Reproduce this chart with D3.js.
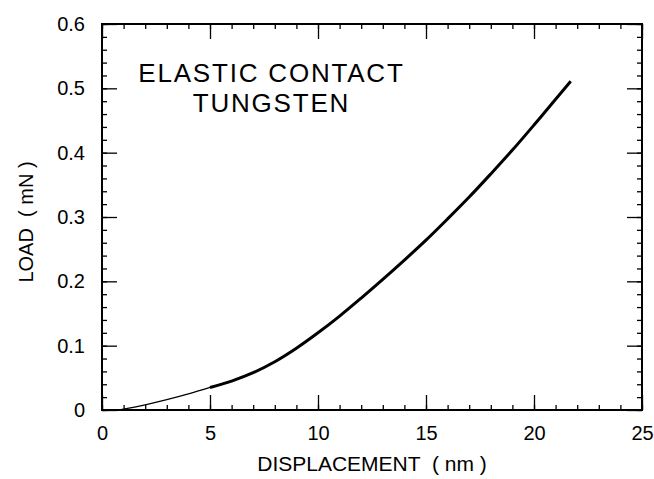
<!DOCTYPE html>
<html>
<head>
<meta charset="utf-8">
<script src="https://cdn.jsdelivr.net/npm/d3@7"></script>
<style>
  body { margin: 0; background: #fff; }
  text { font-family: "Liberation Sans", Arial, sans-serif; fill: #000; }
</style>
</head>
<body>
<svg id="chart" width="654" height="479"></svg>
<script>
// displacement (nm) vs load (mN)
const displacement = [0.8, 2, 3, 4, 5, 6, 7, 8, 9, 10, 11, 12, 13, 14, 15, 16, 17, 18, 19, 20, 21, 21.7];
const load = [0, 0.008, 0.016, 0.025, 0.035, 0.045, 0.058, 0.075, 0.096, 0.12, 0.146, 0.174, 0.203, 0.233, 0.264, 0.297, 0.331, 0.367, 0.404, 0.443, 0.483, 0.511];
const xTicks = [0, 5, 10, 15, 20, 25];
const yTicks = [0, 0.1, 0.2, 0.3, 0.4, 0.5, 0.6];
const titleLines = ["ELASTIC CONTACT", "TUNGSTEN"];

const margin = { top: 24, right: 12, bottom: 69, left: 102 };
const width = 654 - margin.left - margin.right;
const height = 479 - margin.top - margin.bottom;

const svg = d3.select("#chart");
const main = svg.append("g").attr("transform", `translate(${margin.left},${margin.top})`);

const x = d3.scaleLinear().domain([0, 25]).range([0, width]);
const y = d3.scaleLinear().domain([0, 0.6]).range([height, 0]);

const xMinor = d3.range(0, 26, 1);
const yMinor = d3.range(0, 0.601, 0.02);

// minor ticks on all four sides
main.append("g").attr("transform", `translate(0,${height})`)
  .call(d3.axisBottom(x).tickValues(xMinor).tickSize(-5).tickFormat(""));
main.append("g")
  .call(d3.axisTop(x).tickValues(xMinor).tickSize(-5).tickFormat(""));
main.append("g")
  .call(d3.axisLeft(y).tickValues(yMinor).tickSize(-5).tickFormat(""));
main.append("g").attr("transform", `translate(${width},0)`)
  .call(d3.axisRight(y).tickValues(yMinor).tickSize(-5).tickFormat(""));

// major ticks
main.append("g").attr("class", "x-axis").attr("transform", `translate(0,${height})`)
  .call(d3.axisBottom(x).tickValues(xTicks).tickSize(-15).tickPadding(16).tickFormat(d3.format("d")));
main.append("g")
  .call(d3.axisTop(x).tickValues(xTicks).tickSize(-15).tickFormat(""));
main.append("g").attr("class", "y-axis")
  .call(d3.axisLeft(y).tickValues(yTicks).tickSize(-15).tickPadding(17).tickFormat(d => d === 0 ? "0" : d3.format(".1f")(d)));
main.append("g").attr("transform", `translate(${width},0)`)
  .call(d3.axisRight(y).tickValues(yTicks).tickSize(-15).tickFormat(""));

main.selectAll(".domain").remove();
main.selectAll(".tick line").attr("stroke", "#000").attr("stroke-width", 1.3);
main.selectAll(".tick text").style("font-size", "20px").attr("fill", "#000");

// frame
main.append("rect")
  .attr("width", width).attr("height", height)
  .attr("fill", "none").attr("stroke", "#000").attr("stroke-width", 2);

// curve: thin near the origin, heavier where load and unload traces overlap
const pts = displacement.map((d, i) => [d, load[i]]);
const line = d3.line().x(d => x(d[0])).y(d => y(d[1])).curve(d3.curveCatmullRom);
main.append("path")
  .datum(pts.filter(d => d[0] <= 6))
  .attr("d", line).attr("fill", "none").attr("stroke", "#000").attr("stroke-width", 1.3);
main.append("path")
  .datum(pts.filter(d => d[0] >= 5))
  .attr("d", line).attr("fill", "none").attr("stroke", "#000").attr("stroke-width", 3);

// two-line label inside the plot
main.selectAll(".label")
  .data(titleLines)
  .join("text")
  .attr("class", "label")
  .attr("text-anchor", "middle")
  .style("font-size", "26px")
  .style("letter-spacing", "1.8px")
  .attr("x", x(7.8) + 1)
  .attr("y", (d, i) => 58 + i * 29.5)
  .text(d => d);

// axis titles
svg.append("text").attr("x", 372).attr("y", 471).attr("text-anchor", "middle")
  .style("font-size", "21px").style("white-space", "pre").text("DISPLACEMENT  ( nm )");
svg.append("text").attr("transform", "translate(33,222) rotate(-90)").attr("text-anchor", "middle")
  .style("font-size", "20px").style("white-space", "pre").text("LOAD  ( mN )");
</script>
</body>
</html>
